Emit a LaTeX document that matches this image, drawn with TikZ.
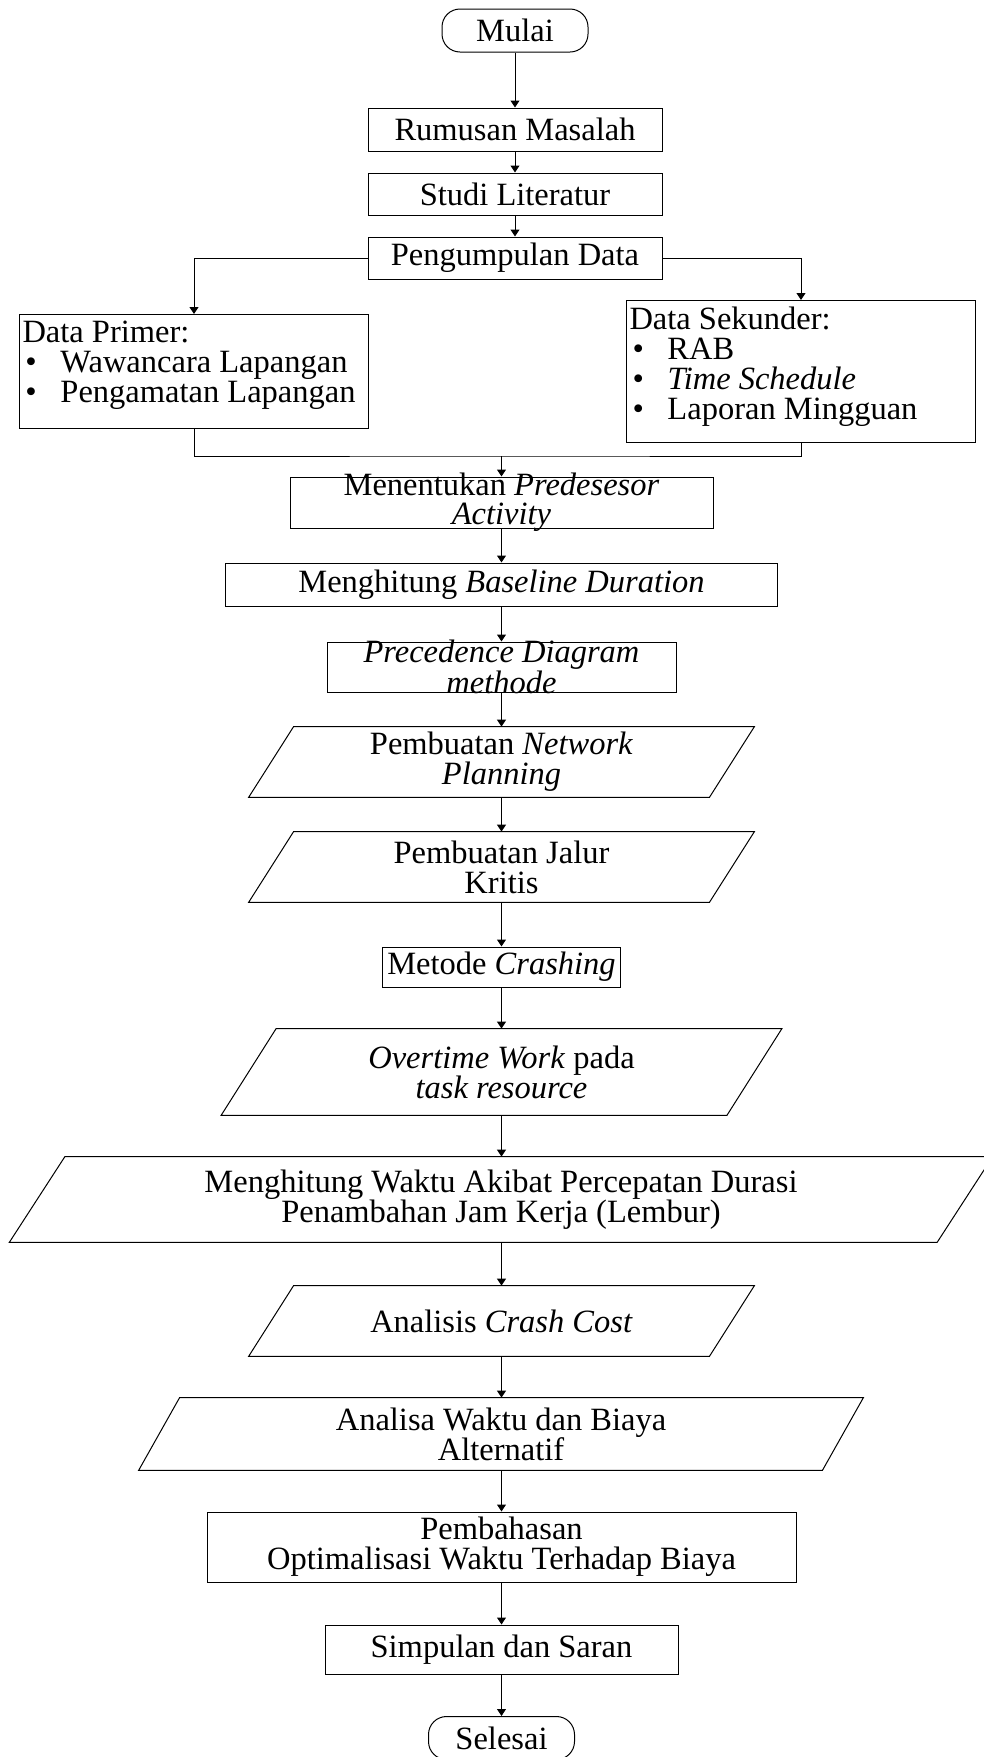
\documentclass[tikz,border=0pt]{standalone}
\usepackage{fontspec}
\setmainfont{Liberation Serif}
\usetikzlibrary{arrows.meta, positioning, calc}

\newcommand{\jajargenjang}[2]{%
  \draw[garis] ([xshift=#2]#1.north west) -- ([xshift=#2]#1.north east)
    -- ([xshift=-#2]#1.south east) -- ([xshift=-#2]#1.south west) -- cycle;%
}
\newcommand{\padat}[3]{\parbox[c][#2][c]{#1}{\centering\fontsize{16.25}{14.5}\selectfont #3}}
\newcommand{\titik}{\makebox[19pt][l]{\hspace{1.5pt}\textbullet}}

\begin{document}
\begin{tikzpicture}[x=0.5pt, y=-0.5pt]
  \tikzset{kotak/.style={draw, line width=0.5pt, inner sep=0pt, align=center, font=\fontsize{16.25}{15}\selectfont}};
  \tikzset{terminal/.style={kotak, rounded corners=9pt, minimum width=73pt, minimum height=21.5pt}};
  \tikzset{miring/.style={inner sep=0pt, align=center, font=\fontsize{16.25}{15}\selectfont}};
  \tikzset{daftar/.style={kotak, anchor=north west, inner xsep=1.5pt, inner ysep=0pt}};
  \tikzset{garis/.style={line width=0.5pt}};
  \tikzset{alir/.style={garis, -{Triangle[length=3.5pt,width=4.5pt]}}};

  \useasboundingbox (0,0) rectangle (984,1757);

  % awal
  \node[terminal] (mulai) at (515,30.5) {Mulai};
  \node[kotak, minimum width=147pt, minimum height=21.5pt] (rumusan) at (515,129.5) {Rumusan Masalah};
  \node[kotak, minimum width=147pt, minimum height=21pt] (studi) at (515,194) {Studi Literatur};
  \node[kotak, minimum width=147pt, minimum height=21pt] (kumpul) at (515,258) {Pengumpulan Data};

  % data
  \node[daftar] (primer) at (19,314) {\parbox[t][57pt][t]{171.5pt}{\raggedright\vspace*{3.4pt}%
    Data Primer:\\ \titik Wawancara Lapangan\\ \titik Pengamatan Lapangan}};
  \node[daftar] (sekunder) at (626,300) {\parbox[t][71pt][t]{171.5pt}{\raggedright\vspace*{3pt}%
    Data Sekunder:\\ \titik RAB\\ \titik\textit{Time Schedule}\\ \titik Laporan Mingguan}};
  \coordinate (gabung) at (501.5,456);

  % proses
  \node[kotak] (predesesor) at (501.5,502.5) {\padat{211.5pt}{25.5pt}{Menentukan \textit{Predesesor}\\ \textit{Activity}}};
  \node[kotak, minimum width=276pt, minimum height=21.5pt] (baseline) at (501.5,584.5) {Menghitung \textit{Baseline Duration}};
  \node[kotak] (pdm) at (501.5,667) {\padat{174.5pt}{25pt}{\textit{Precedence Diagram}\\ \textit{methode}}};
  \node[miring, minimum width=230pt, minimum height=35pt] (network) at (501.5,762) {Pembuatan \textit{Network}\\ \textit{Planning}};
  \node[miring, minimum width=230pt, minimum height=35pt] (kritis) at (501.5,867) {Pembuatan Jalur\\ Kritis};
  \node[kotak, minimum width=119pt, minimum height=20pt] (crashing) at (501.5,967) {Metode \textit{Crashing}};
  \node[miring, minimum width=252.5pt, minimum height=43pt] (overtime) at (501.5,1072) {\textit{Overtime Work} pada\\ \textit{task resource}};
  \node[miring, minimum width=463.5pt, minimum height=42.5pt] (lembur) at (501,1199.5) {Menghitung Waktu Akibat Percepatan Durasi\\ Penambahan Jam Kerja (Lembur)};
  \node[miring, minimum width=230pt, minimum height=35pt] (crashcost) at (501.5,1321) {Analisis \textit{Crash Cost}};
  \node[miring, minimum width=341.5pt, minimum height=36pt] (alternatif) at (501,1434) {Analisa Waktu dan Biaya\\ Alternatif};
  \node[kotak, minimum width=294.5pt, minimum height=35pt] (bahas) at (501.5,1547) {Pembahasan\\ Optimalisasi Waktu Terhadap Biaya};
  \node[kotak, minimum width=176.5pt, minimum height=24.5pt] (simpulan) at (501.5,1649.5) {Simpulan dan Saran};
  \node[terminal] (selesai) at (501.5,1738) {Selesai};

  \jajargenjang{network}{11.25pt}
  \jajargenjang{kritis}{11.25pt}
  \jajargenjang{overtime}{13.75pt}
  \jajargenjang{lembur}{13.9pt}
  \jajargenjang{crashcost}{11.25pt}
  \jajargenjang{alternatif}{10.25pt}

  % panah
  \draw[alir] (mulai) -- (rumusan);
  \draw[alir] (rumusan) -- (studi);
  \draw[alir] (studi) -- (kumpul);
  \draw[alir] (kumpul.west) -| (primer.north);
  \draw[alir] (kumpul.east) -| (sekunder.north);
  \draw[garis] (primer.south) |- (gabung) -| (sekunder.south);
  \draw[alir] (gabung) -- (predesesor);
  \draw[alir] (predesesor) -- (baseline);
  \draw[alir] (baseline) -- (pdm);
  \draw[alir] (pdm) -- (network);
  \draw[alir] (network) -- (kritis);
  \draw[alir] (kritis) -- (crashing);
  \draw[alir] (crashing) -- (overtime);
  \draw[alir] (overtime.south) -- (overtime.south |- lembur.north);
  \draw[alir] (lembur.south -| crashcost.north) -- (crashcost);
  \draw[alir] (crashcost) -- (alternatif.north -| crashcost.south);
  \draw[alir] (alternatif.south -| bahas.north) -- (bahas);
  \draw[alir] (bahas) -- (simpulan);
  \draw[alir] (simpulan) -- (selesai);
\end{tikzpicture}
\end{document}
